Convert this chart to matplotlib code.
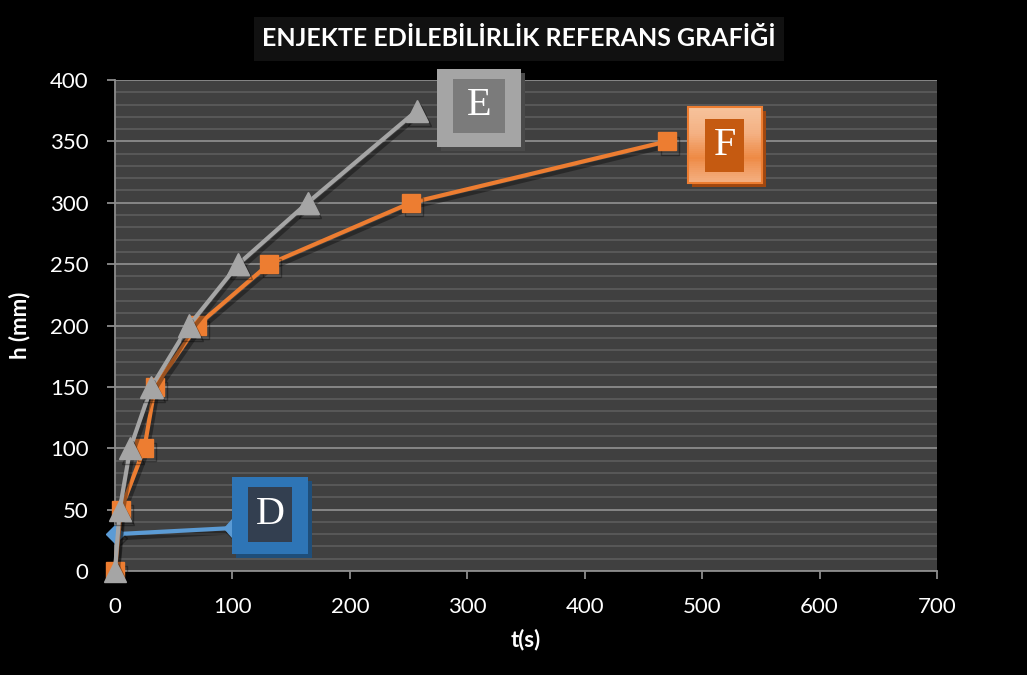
import numpy as np
import matplotlib.pyplot as plt
import matplotlib.patheffects as pe
from matplotlib.patches import Rectangle
from matplotlib.transforms import IdentityTransform

# Ölçüm verileri: t (s) ve h (mm)
t_D = [0, 100]
h_D = [30, 35]

t_E = [0, 4, 13, 31, 63, 105, 164, 257]
h_E = [0, 50, 100, 150, 200, 250, 300, 375]

t_F = [0, 5, 25, 34, 70, 131, 252, 470]
h_F = [0, 50, 100, 150, 200, 250, 300, 350]

x_ticks = [0, 100, 200, 300, 400, 500, 600, 700]
y_ticks = [0, 50, 100, 150, 200, 250, 300, 350, 400]

W, H = 1027, 675
fig = plt.figure(figsize=(W / 100, H / 100), dpi=100, facecolor='black')
ax = fig.add_axes([115 / W, 104 / H, 822 / W, 491 / H])
ax.set_facecolor('#404040')

golge = [pe.SimpleLineShadow(offset=(2, -3), shadow_color='black', alpha=0.35),
         pe.Normal()]

ax.plot(t_D, h_D, color='#5b9bd5', lw=3, marker='D', ms=9,
        path_effects=golge, zorder=3, clip_on=False)
ax.plot(t_F, h_F, color='#ed7d31', lw=3, marker='s', ms=13,
        path_effects=golge, zorder=4, clip_on=False)
ax.plot(t_E, h_E, color='#a5a5a5', lw=3, marker='^', ms=16,
        path_effects=golge, zorder=5, clip_on=False)

ax.set_xlim(0, 700)
ax.set_ylim(0, 400)
ax.set_xticks(x_ticks)
ax.set_yticks(y_ticks)
ax.set_yticks(np.arange(0, 401, 10), minor=True)
ax.grid(which='minor', axis='y', color='#5c5c5c', lw=1.2, zorder=0)
ax.grid(which='major', axis='y', color='#8c8c8c', lw=1.3, zorder=0)
ax.set_axisbelow(True)

for s in ['top', 'right']:
    ax.spines[s].set_visible(False)
for s in ['left', 'bottom']:
    ax.spines[s].set_color('#8c8c8c')
    ax.spines[s].set_linewidth(1.3)

ax.tick_params(which='major', colors='#8c8c8c', length=6, width=1.3, pad=13,
               labelcolor='white', labelsize=16)
ax.tick_params(which='minor', length=0)
for lab in ax.get_xticklabels() + ax.get_yticklabels():
    lab.set_family('Lato')

ax.set_xlabel('t(s)', color='white', fontsize=16, fontweight='bold',
              family='Lato', labelpad=8)
ax.set_ylabel('h (mm)', color='white', fontsize=16, fontweight='bold',
              family='Lato', labelpad=14)

# Başlık kutusu
fig.patches.append(Rectangle((254, H - 61), 530, 44, facecolor='#111111',
                             edgecolor='none', transform=IdentityTransform(),
                             figure=fig))
fig.text(519 / W, 1 - 39 / H, 'ENJEKTE EDİLEBİLİRLİK REFERANS GRAFİĞİ',
         color='white', fontsize=18, fontweight='bold', family='Lato',
         ha='center', va='center')


def etiket(harf, x, y, dx, dy, dis, ic, ic_dy, dis_renk, ic_renk, golge_renk,
           gradyan=None):
    px, py = ax.transData.transform((x, y))
    cx, cy = px + dx, py + dy
    w, h = dis
    fig.patches.append(Rectangle((cx - w / 2 + 4, cy - h / 2 - 4), w, h,
                                 facecolor=golge_renk, edgecolor='none',
                                 transform=IdentityTransform(), figure=fig))
    if gradyan is None:
        fig.patches.append(Rectangle((cx - w / 2, cy - h / 2), w, h,
                                     facecolor=dis_renk, edgecolor='none',
                                     transform=IdentityTransform(), figure=fig))
    else:
        n = 40
        renkler = plt.matplotlib.colors.LinearSegmentedColormap.from_list('g', gradyan)
        for i in range(n):
            fig.patches.append(Rectangle((cx - w / 2, cy - h / 2 + i * h / n), w, h / n + 0.6,
                                         facecolor=renkler(i / (n - 1)), edgecolor='none',
                                         transform=IdentityTransform(), figure=fig))
        fig.patches.append(Rectangle((cx - w / 2, cy - h / 2), w, h,
                                     facecolor='none', edgecolor=dis_renk, lw=1.5,
                                     transform=IdentityTransform(), figure=fig))
    iw, ih = ic
    fig.patches.append(Rectangle((cx - iw / 2, cy + ic_dy - ih / 2), iw, ih,
                                 facecolor=ic_renk, edgecolor='none',
                                 transform=IdentityTransform(), figure=fig))
    fig.text(cx / W, (cy + ic_dy) / H, harf, color='white', fontsize=29,
             family='Liberation Serif', ha='center', va='center')


etiket('E', t_E[-1], h_E[-1], 62, 3, (84, 78), (52, 54), 2,
       '#a5a5a5', '#7b7b7b', '#4a4a4a')
etiket('F', t_F[-1], h_F[-1], 58, -4, (74, 76), (39, 53), 0,
       '#ed7d31', '#c55a11', '#a0470f',
       gradyan=['#f4b183', '#ee8a45', '#f4b183', '#f6c29b'])
etiket('D', t_D[-1], h_D[-1], 38, 13, (76, 77), (44, 55), 1,
       '#2e75b6', '#333f50', '#1f4e79')

fig.savefig('out.png', dpi=100, facecolor='black')
